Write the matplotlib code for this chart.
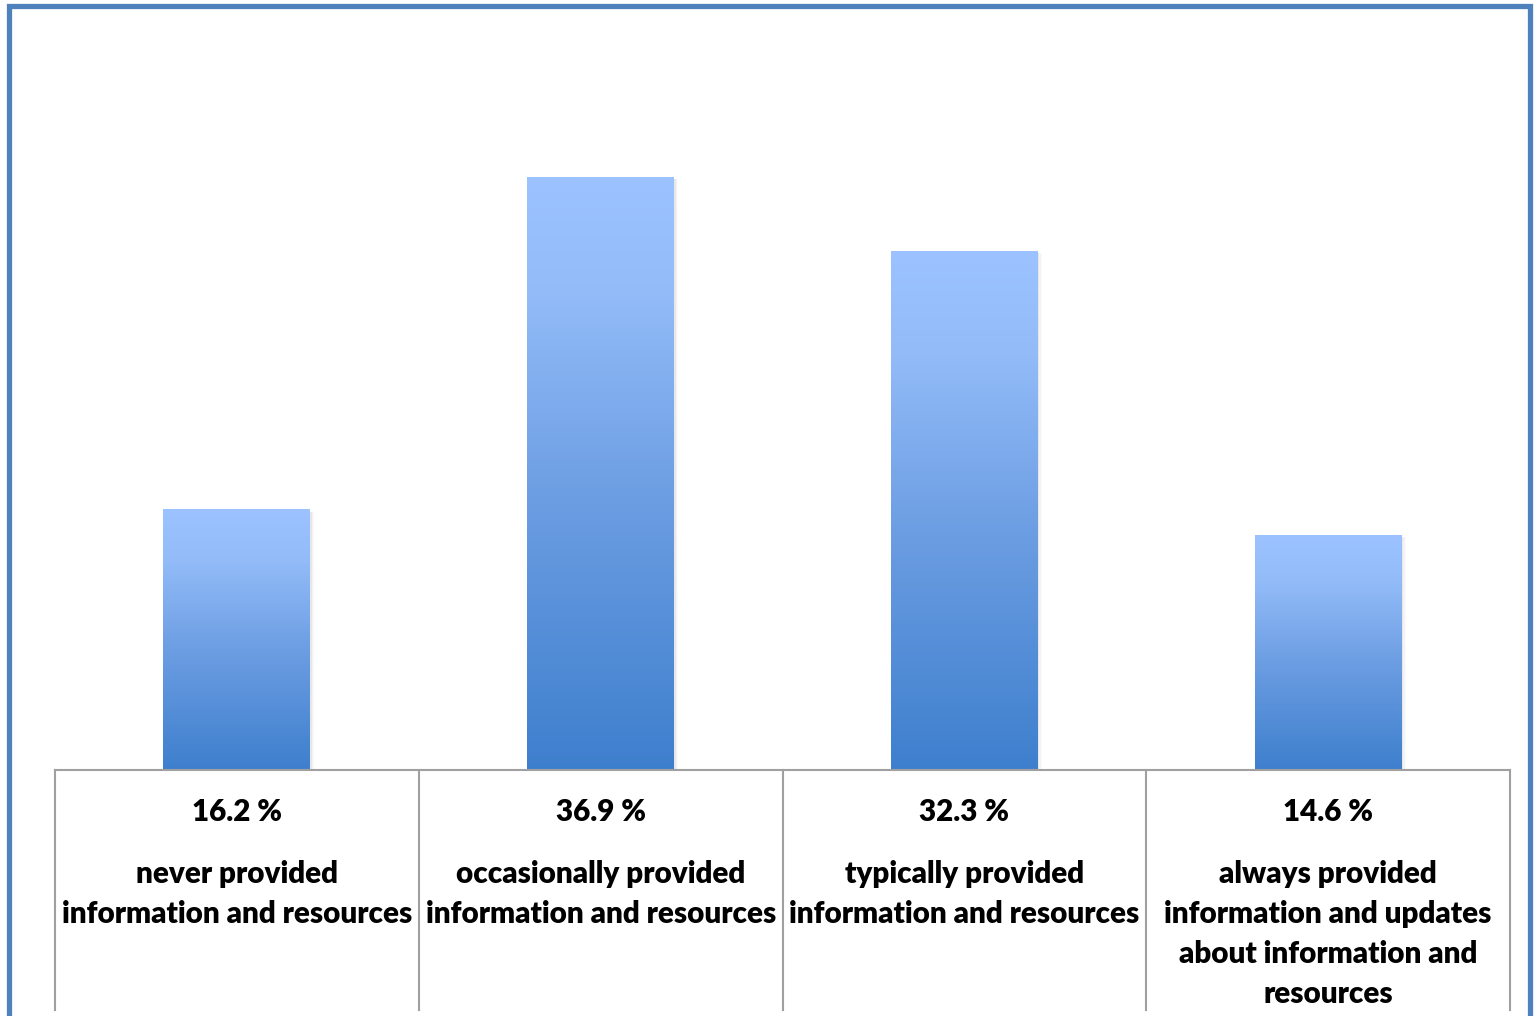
import matplotlib

matplotlib.use("Agg")
import matplotlib.pyplot as plt
import numpy as np
from matplotlib.colors import LinearSegmentedColormap
from matplotlib.patches import Rectangle
from matplotlib.transforms import blended_transform_factory

categories = [
    "never provided\ninformation and resources",
    "occasionally provided\ninformation and resources",
    "typically provided\ninformation and resources",
    "always provided\ninformation and updates\nabout information and\nresources",
]
values = [16.2, 36.9, 32.3, 14.6]
value_labels = ["16.2 %", "36.9 %", "32.3 %", "14.6 %"]

W, H = 1538, 1016
fig = plt.figure(figsize=(W / 100, H / 100), dpi=100)
ax = fig.add_axes([55 / W, (H - 770) / H, (1510 - 55) / W, (770 - 128) / H])

grad_cmap = LinearSegmentedColormap.from_list(
    "bar", [(0.0, "#3e7fcd"), (0.45, "#6b9de2"), (0.8, "#92bbf8"), (1.0, "#9cc3ff")]
)
grad = np.linspace(0, 1, 256).reshape(-1, 1)
bar_w = 0.404

for i, v in enumerate(values):
    x0 = i - bar_w / 2
    # soft shadow on the right
    for k, a in enumerate([0.10, 0.06, 0.03]):
        ax.add_patch(Rectangle((x0 + 0.004 * (k + 1), 0), bar_w, v - 0.1,
                               facecolor="#808080", alpha=a, linewidth=0, zorder=1))
    ax.imshow(grad, cmap=grad_cmap, origin="lower", aspect="auto",
              extent=[x0, x0 + bar_w, 0, v], zorder=2, interpolation="bilinear")

ax.set_xlim(-0.5, len(values) - 0.5)
ax.set_ylim(0, 40)
ax.set_xticks([])
ax.set_yticks([])
for side in ["top", "left", "right"]:
    ax.spines[side].set_visible(False)
ax.spines["bottom"].set_color("#a0a0a0")
ax.spines["bottom"].set_linewidth(1.5)

# category separators under the axis
px_per_unit = (770 - 128) / 40
y_end = -(1010 - 770) / px_per_unit
for xs in np.arange(-0.5, len(values), 1.0):
    ax.plot([xs, xs], [0, y_end], color="#a0a0a0", linewidth=1.5, clip_on=False)

trans = blended_transform_factory(ax.transData, fig.transFigure)
font = dict(family=["Lato", "DejaVu Sans"], fontweight="heavy", fontsize=21.3, color="black")
for i, (lab, cat) in enumerate(zip(value_labels, categories)):
    ax.text(i, 1 - 812 / H, lab, transform=trans, ha="center", va="center", **font)
    ax.text(i, 1 - 860 / H, cat, transform=trans, ha="center", va="top",
            linespacing=1.52, **font)

# outer chart border
fig.patches.append(Rectangle((8.5 / W, -0.05), (1529.5 - 8.5) / W, 1.05 - 5.5 / H,
                             transform=fig.transFigure, fill=False,
                             edgecolor="#4f81bd", linewidth=3.8))

fig.savefig("out.png", dpi=100)
